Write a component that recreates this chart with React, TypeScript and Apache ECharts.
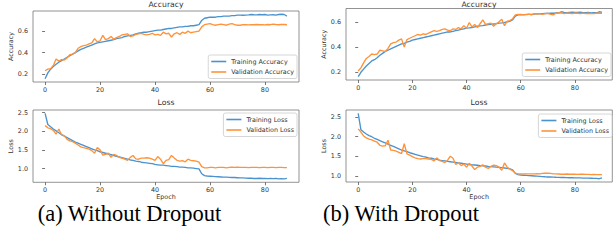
import React, { useEffect, useRef } from "react";
import * as echarts from "echarts";

const leftTrainAcc = [0.155,0.21,0.245,0.27,0.29,0.31,0.325,0.34,0.355,0.37,
 0.385,0.40,0.415,0.43,0.44,0.45,0.46,0.47,0.48,0.49,
 0.495,0.50,0.505,0.51,0.515,0.52,0.53,0.535,0.54,0.55,
 0.555,0.56,0.565,0.575,0.58,0.585,0.59,0.59,0.595,0.60,
 0.605,0.61,0.61,0.615,0.62,0.625,0.625,0.63,0.635,0.64,
 0.64,0.645,0.645,0.65,0.65,0.655,0.66,0.70,0.72,0.725,
 0.73,0.73,0.73,0.735,0.735,0.74,0.74,0.74,0.745,0.745,
 0.75,0.75,0.748,0.75,0.752,0.755,0.753,0.752,0.755,0.753,
 0.755,0.75,0.752,0.753,0.75,0.755,0.758,0.755,0.74];
const leftValAcc = [0.23,0.245,0.25,0.28,0.34,0.32,0.335,0.33,0.35,0.38,
 0.385,0.40,0.44,0.455,0.465,0.47,0.48,0.49,0.53,0.50,
 0.51,0.56,0.52,0.53,0.55,0.525,0.54,0.55,0.565,0.57,
 0.575,0.55,0.555,0.57,0.575,0.58,0.57,0.565,0.57,0.58,
 0.565,0.57,0.56,0.59,0.575,0.58,0.545,0.575,0.585,0.57,
 0.59,0.58,0.60,0.585,0.59,0.595,0.60,0.64,0.66,0.665,
 0.67,0.66,0.655,0.66,0.665,0.66,0.655,0.665,0.67,0.66,
 0.655,0.655,0.66,0.66,0.658,0.66,0.66,0.662,0.66,0.66,
 0.658,0.662,0.66,0.665,0.662,0.66,0.662,0.662,0.66];
const leftTrainLoss = [2.48,2.18,2.12,2.06,2.01,1.96,1.91,1.87,1.83,1.79,
 1.75,1.71,1.68,1.65,1.62,1.59,1.56,1.53,1.50,1.48,
 1.45,1.43,1.41,1.39,1.37,1.35,1.33,1.31,1.29,1.27,
 1.25,1.23,1.22,1.20,1.19,1.17,1.16,1.15,1.14,1.13,
 1.11,1.10,1.09,1.09,1.08,1.07,1.06,1.06,1.05,1.04,
 1.04,1.03,1.02,1.02,1.01,1.00,0.99,0.86,0.81,0.80,
 0.795,0.79,0.785,0.78,0.775,0.77,0.77,0.765,0.76,0.76,
 0.755,0.75,0.75,0.745,0.74,0.74,0.735,0.735,0.74,0.735,
 0.735,0.73,0.735,0.73,0.735,0.725,0.73,0.725,0.735];
const leftValLoss = [2.15,2.09,2.07,2.02,1.92,2.06,1.90,1.88,1.78,1.74,
 1.72,1.68,1.63,1.58,1.56,1.54,1.52,1.48,1.41,1.56,
 1.50,1.36,1.38,1.41,1.30,1.38,1.35,1.30,1.28,1.25,
 1.22,1.30,1.35,1.26,1.25,1.28,1.28,1.29,1.28,1.25,
 1.22,1.32,1.25,1.13,1.22,1.24,1.35,1.28,1.22,1.20,
 1.21,1.18,1.25,1.22,1.21,1.20,1.17,1.05,1.02,1.02,
 1.03,1.03,1.02,1.03,1.03,1.03,1.02,1.03,1.035,1.03,
 1.04,1.03,1.03,1.03,1.025,1.03,1.03,1.03,1.025,1.03,
 1.03,1.025,1.03,1.03,1.025,1.03,1.03,1.025,1.025];

const rightTrainAcc = [0.165,0.20,0.225,0.25,0.27,0.29,0.30,0.315,0.335,0.35,
 0.365,0.375,0.385,0.395,0.405,0.415,0.425,0.43,0.44,0.445,
 0.455,0.46,0.465,0.47,0.475,0.48,0.485,0.49,0.495,0.50,
 0.505,0.51,0.515,0.52,0.52,0.525,0.53,0.535,0.54,0.545,
 0.55,0.552,0.555,0.56,0.565,0.568,0.57,0.575,0.578,0.58,
 0.583,0.586,0.59,0.592,0.595,0.60,0.605,0.615,0.645,0.655,
 0.655,0.657,0.658,0.66,0.66,0.662,0.663,0.664,0.665,0.666,
 0.667,0.668,0.668,0.67,0.672,0.68,0.675,0.673,0.675,0.677,
 0.675,0.674,0.676,0.673,0.672,0.674,0.671,0.673,0.672,0.68,
 0.675];
const rightValAcc = [0.21,0.235,0.275,0.31,0.325,0.345,0.34,0.345,0.375,0.37,
 0.365,0.39,0.425,0.435,0.44,0.455,0.465,0.40,0.46,0.47,
 0.48,0.49,0.50,0.495,0.505,0.50,0.51,0.52,0.53,0.525,
 0.53,0.54,0.545,0.535,0.53,0.545,0.54,0.555,0.545,0.57,
 0.55,0.595,0.56,0.58,0.555,0.585,0.615,0.58,0.585,0.59,
 0.565,0.585,0.60,0.62,0.57,0.605,0.61,0.625,0.655,0.66,
 0.66,0.655,0.66,0.662,0.655,0.665,0.662,0.665,0.66,0.665,
 0.668,0.66,0.655,0.668,0.67,0.672,0.665,0.67,0.668,0.665,
 0.67,0.668,0.665,0.67,0.665,0.668,0.665,0.665,0.67,0.668,
 0.668];
const rightTrainLoss = [2.60,2.18,2.12,2.07,2.03,2.00,1.96,1.93,1.90,1.87,
 1.84,1.81,1.78,1.75,1.72,1.69,1.66,1.64,1.62,1.59,
 1.57,1.55,1.53,1.51,1.49,1.48,1.46,1.45,1.43,1.42,
 1.40,1.39,1.38,1.37,1.36,1.35,1.34,1.33,1.32,1.31,
 1.30,1.29,1.28,1.275,1.27,1.26,1.255,1.25,1.24,1.235,
 1.23,1.22,1.215,1.21,1.20,1.19,1.18,1.15,1.06,1.03,
 1.02,1.015,1.01,1.005,1.0,0.995,0.99,0.985,0.98,0.975,
 0.97,0.968,0.965,0.962,0.96,0.955,0.955,0.952,0.95,0.95,
 0.948,0.945,0.945,0.942,0.94,0.94,0.938,0.935,0.935,0.925,
 0.945];
const rightValLoss = [2.20,2.12,2.02,1.97,1.94,1.92,1.89,1.86,1.78,1.76,
 1.77,1.91,1.66,1.65,1.63,1.60,1.57,1.82,1.56,1.53,
 1.49,1.46,1.44,1.43,1.44,1.44,1.43,1.42,1.38,1.46,
 1.39,1.37,1.34,1.40,1.50,1.45,1.29,1.33,1.26,1.30,
 1.22,1.32,1.25,1.16,1.22,1.24,1.28,1.22,1.19,1.24,
 1.27,1.26,1.22,1.14,1.33,1.22,1.17,1.13,1.07,1.05,
 1.05,1.05,1.05,1.05,1.05,1.05,1.055,1.05,1.06,1.065,
 1.07,1.06,1.05,1.05,1.045,1.04,1.04,1.045,1.04,1.04,
 1.04,1.035,1.04,1.04,1.035,1.035,1.03,1.035,1.03,1.03,
 1.03];

const epochTicks = [0, 20, 40, 60, 80];
const accTicks = [0.2, 0.4, 0.6];
const lossTicks = [1.0, 1.5, 2.0, 2.5];
const captions = ["(a) Without Dropout", "(b) With Dropout"];

const BLUE = "#4b93cf";
const ORANGE = "#ff933a";
const FONT = "DejaVu Sans";
const SERIF = "Liberation Serif";
const TXT = "#333";

const pairs = (arr: number[]) => arr.map((v, i) => [i, v]);

export default function App() {
  const ref = useRef<HTMLDivElement>(null);
  useEffect(() => {
    if (!ref.current) return;
    const chart = echarts.init(ref.current, null, { renderer: "svg" });

    const grids = [
      { left: 33, top: 11, width: 266, height: 71 },
      { left: 33, top: 110, width: 266, height: 72.3 },
      { left: 346, top: 8.5, width: 266.3, height: 71.5 },
      { left: 346, top: 110, width: 266.3, height: 72 },
    ].map((g) => ({
      ...g,
      show: true,
      borderColor: "#777",
      borderWidth: 0.8,
      backgroundColor: "transparent",
      outerBoundsMode: "none",
    }));

    const xRanges = [
      [-4.4, 92.4],
      [-4.4, 92.4],
      [-4.5, 93.8],
      [-4.5, 93.8],
    ];
    const yRanges = [
      [0.125, 0.788],
      [0.632, 2.568],
      [0.139, 0.706],
      [0.841, 2.684],
    ];
    const yTicks = [accTicks, lossTicks, accTicks, lossTicks];
    const yNames = ["Accuracy", "Loss", "Accuracy", "Loss"];

    const xAxis = xRanges.map((r, i) => ({
      type: "value",
      gridIndex: i,
      min: r[0],
      max: r[1],
      axisLine: { show: false },
      splitLine: { show: false },
      axisTick: {
        show: true,
        length: 3,
        lineStyle: { color: "#555", width: 0.8 },
        customValues: epochTicks,
      },
      axisLabel: {
        customValues: epochTicks,
        fontSize: 6.4,
        color: TXT,
        fontFamily: FONT,
        margin: 5,
        formatter: (v: number) => String(v),
      },
      name: i % 2 === 1 ? "Epoch" : "",
      nameLocation: "middle",
      nameGap: 12,
      nameTextStyle: { fontSize: 6.4, color: TXT, fontFamily: FONT },
    }));

    const yAxis = yRanges.map((r, i) => ({
      type: "value",
      gridIndex: i,
      min: r[0],
      max: r[1],
      axisLine: { show: false },
      splitLine: { show: false },
      axisTick: {
        show: true,
        length: 3,
        lineStyle: { color: "#555", width: 0.8 },
        customValues: yTicks[i],
      },
      axisLabel: {
        customValues: yTicks[i],
        fontSize: 6.4,
        color: TXT,
        fontFamily: FONT,
        margin: 5,
        formatter: (v: number) => v.toFixed(1),
      },
      name: yNames[i],
      nameLocation: "middle",
      nameRotate: 90,
      nameGap: 17,
      nameTextStyle: { fontSize: 6.4, color: TXT, fontFamily: FONT },
    }));

    const titles: any[] = [
      { text: "Accuracy", left: 166, top: 0 },
      { text: "Loss", left: 166, top: 98 },
      { text: "Accuracy", left: 479, top: 0 },
      { text: "Loss", left: 479, top: 98 },
    ].map((t) => ({
      text: t.text,
      left: t.left,
      top: t.top,
      textAlign: "center",
      padding: 0,
      textStyle: { fontSize: 7.7, fontWeight: "normal", color: TXT, fontFamily: FONT, lineHeight: 8 },
    }));

    [
      { text: captions[0], left: 129.5 },
      { text: captions[1], left: 401 },
    ].forEach((c) =>
      titles.push({
        text: c.text,
        left: c.left,
        top: 201,
        textAlign: "center",
        padding: 0,
        textStyle: {
          fontSize: 22.5,
          fontWeight: "normal",
          color: "#000",
          fontFamily: SERIF,
          lineHeight: 24,
        },
      })
    );

    const legendBase = {
      orient: "vertical",
      padding: [2, 3, 2, 3],
      itemGap: 1.5,
      itemWidth: 15,
      itemHeight: 1.6,
      icon: "rect",
      borderColor: "#ccc",
      borderWidth: 0.8,
      borderRadius: 2,
      backgroundColor: "#fff",
      textStyle: { fontSize: 6.4, color: TXT, fontFamily: FONT, lineHeight: 9 },
    };
    const legend = [
      { ...legendBase, right: 316, top: 55, data: ["Training Accuracy", "Validation Accuracy"] },
      { ...legendBase, right: 316, top: 113, data: ["Training Loss", "Validation Loss"] },
      { ...legendBase, right: 2, top: 53, data: ["Training Accuracy", "Validation Accuracy"] },
      { ...legendBase, right: 1, top: 114, data: ["Training Loss", "Validation Loss"] },
    ];

    const mk = (name: string, data: number[], idx: number, color: string) => ({
      type: "line",
      name,
      xAxisIndex: idx,
      yAxisIndex: idx,
      data: pairs(data),
      showSymbol: false,
      symbol: "none",
      lineStyle: { width: 1.35, color },
      itemStyle: { color },
      z: color === ORANGE ? 3 : 2,
    });

    const series = [
      mk("Training Accuracy", leftTrainAcc, 0, BLUE),
      mk("Validation Accuracy", leftValAcc, 0, ORANGE),
      mk("Training Loss", leftTrainLoss, 1, BLUE),
      mk("Validation Loss", leftValLoss, 1, ORANGE),
      mk("Training Accuracy", rightTrainAcc, 2, BLUE),
      mk("Validation Accuracy", rightValAcc, 2, ORANGE),
      mk("Training Loss", rightTrainLoss, 3, BLUE),
      mk("Validation Loss", rightValLoss, 3, ORANGE),
    ];

    chart.setOption({
      animation: false,
      backgroundColor: "#fff",
      title: titles,
      grid: grids,
      xAxis,
      yAxis,
      legend,
      series,
    });
    return () => chart.dispose();
  }, []);
  return (
    <div
      ref={ref}
      style={{ position: "absolute", left: 0, top: 0, width: 613, height: 240 }}
    />
  );
}
